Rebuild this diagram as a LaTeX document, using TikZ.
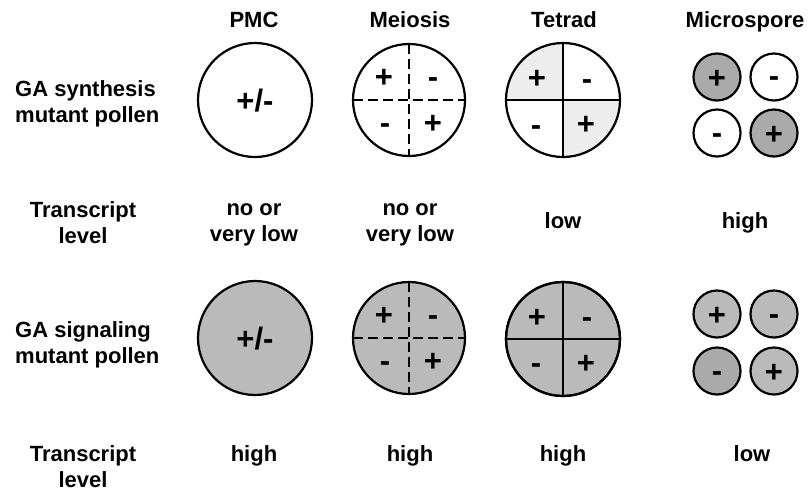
\documentclass[tikz,border=0pt]{standalone}
\usepackage{fontspec}
\setmainfont{Liberation Sans}
\definecolor{midgray}{HTML}{BABABA}
\definecolor{darkgray2}{HTML}{AAAAAA}
\definecolor{lightgray2}{HTML}{EDEDED}
\begin{document}
\begin{tikzpicture}[x=1pt,y=-1pt,
  lbl/.style={font=\bfseries\fontsize{22}{26}\selectfont, inner sep=0pt, anchor=base},
  lbll/.style={lbl, anchor=base west},
  sgn/.style={font=\bfseries\fontsize{31}{32}\selectfont, inner sep=0pt, anchor=base, yshift=-10pt},
  outl/.style={line width=2.2pt},
  divl/.style={line width=2pt},
  dashl/.style={line width=2pt, dash pattern=on 10pt off 5pt}
]
\useasboundingbox (0,0) rectangle (810,491);

% headers
\node[lbl] (hpmc) at (254,27) {PMC};
\node[lbl] (hmei) at (410,27) {Meiosis};
\node[lbl] (htet) at (564,27) {Tetrad};
\node[lbl] (hmic) at (745,27) {Microspore};

% row labels
\node[lbll] (r1a) at (15,96) {GA synthesis};
\node[lbll] (r1b) at (15,122) {mutant pollen};
\node[lbll] (r2a) at (15,337) {GA signaling};
\node[lbll] (r2b) at (15,363) {mutant pollen};

% transcript row 1
\node[lbl] (t1a) at (83,217) {Transcript};
\node[lbl] (t1b) at (83,243) {level};
\node[lbl] (t1p1) at (254,215) {no or};
\node[lbl] (t1p2) at (254,241) {very low};
\node[lbl] (t1m1) at (410,215) {no or};
\node[lbl] (t1m2) at (410,241) {very low};
\node[lbl] (t1t) at (563,228) {low};
\node[lbl] (t1s) at (745,228) {high};

% transcript row 2
\node[lbl] (t2a) at (83,461) {Transcript};
\node[lbl] (t2b) at (83,487) {level};
\node[lbl] (t2p) at (254,461) {high};
\node[lbl] (t2m) at (410,461) {high};
\node[lbl] (t2t) at (563,461) {high};
\node[lbl] (t2s) at (752,461) {low};

% ---------- row 1 ----------
% PMC
\draw[outl, fill=white] (255,100) circle (57);
\node[sgn] (p1s) at (255,101) {+/-};
% Meiosis
\draw[outl, fill=white] (409,100) circle (56);
\draw[dashl] (409,44) -- (409,156);
\draw[dashl] (353,100) -- (465,100);
\node[sgn] (m1a) at (384,77) {+};
\node[sgn] (m1b) at (433,77) {-};
\node[sgn] (m1c) at (385,123) {-};
\node[sgn] (m1d) at (433,123) {+};
% Tetrad
\fill[lightgray2] (563,100) -- (506,100) arc (180:270:57) -- cycle;
\fill[lightgray2] (563,100) -- (620,100) arc (0:90:57) -- cycle;
\draw[divl] (563,43) -- (563,157);
\draw[divl] (506,100) -- (620,100);
\draw[outl] (563,100) circle (57);
\node[sgn] (t1qa) at (537,78) {+};
\node[sgn] (t1qb) at (587,79) {-};
\node[sgn] (t1qc) at (536,125) {-};
\node[sgn] (t1qd) at (586,124) {+};
% Microspores
\draw[outl, fill=darkgray2] (717,77) circle (23.5);
\draw[outl, fill=white] (774,77) circle (23.5);
\draw[outl, fill=white] (717,133) circle (23.5);
\draw[outl, fill=darkgray2] (774,133) circle (23.5);
\node[sgn] (s1a) at (717,78) {+};
\node[sgn] (s1b) at (774,76) {-};
\node[sgn] (s1c) at (717,133) {-};
\node[sgn] (s1d) at (774,134) {+};

% ---------- row 2 ----------
% PMC
\draw[outl, fill=midgray] (255,338) circle (57);
\node[sgn] (p2s) at (255,339) {+/-};
% Meiosis
\draw[outl, fill=midgray] (409,338) circle (56);
\draw[dashl] (409,282) -- (409,394);
\draw[dashl] (353,338) -- (465,338);
\node[sgn] (m2a) at (384,315) {+};
\node[sgn] (m2b) at (433,315) {-};
\node[sgn] (m2c) at (385,361) {-};
\node[sgn] (m2d) at (433,361) {+};
% Tetrad
\draw[outl, fill=midgray] (563,339) circle (57);
\draw[divl] (563,282) -- (563,396);
\draw[divl] (506,339) -- (620,339);
\draw[outl] (563,339) circle (57);
\node[sgn] (t2qa) at (537,317) {+};
\node[sgn] (t2qb) at (587,317) {-};
\node[sgn] (t2qc) at (536,363) {-};
\node[sgn] (t2qd) at (586,363) {+};
% Microspores
\draw[outl, fill=midgray] (717,314) circle (23.5);
\draw[outl, fill=midgray] (774,314) circle (23.5);
\draw[outl, fill=darkgray2] (717,371) circle (23.5);
\draw[outl, fill=midgray] (774,371) circle (23.5);
\node[sgn] (s2a) at (717,315) {+};
\node[sgn] (s2b) at (774,314) {-};
\node[sgn] (s2c) at (717,371) {-};
\node[sgn] (s2d) at (774,372) {+};
\end{tikzpicture}
\end{document}
